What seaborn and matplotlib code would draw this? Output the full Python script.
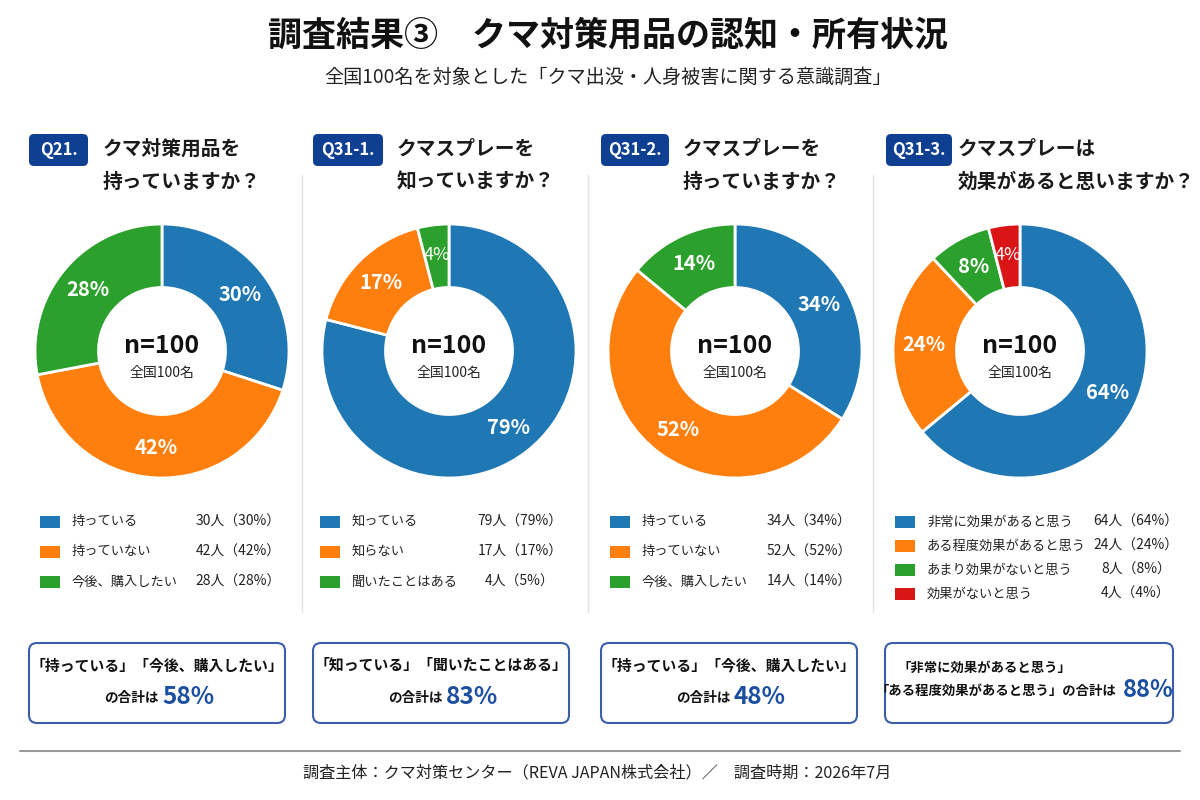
import matplotlib.pyplot as plt
import seaborn as sns
from matplotlib.patches import FancyBboxPatch, Rectangle

# データ
q_codes = ["Q21.", "Q31-1.", "Q31-2.", "Q31-3."]
q_line1 = ["クマ対策用品を", "クマスプレーを", "クマスプレーを", "クマスプレーは"]
q_line2 = ["持っていますか？", "知っていますか？", "持っていますか？", "効果があると思いますか？"]

labels_q21 = ["持っている", "持っていない", "今後、購入したい"]
values_q21 = [30, 42, 28]
legend_pct_q21 = [30, 42, 28]

labels_q311 = ["知っている", "知らない", "聞いたことはある"]
values_q311 = [79, 17, 4]
legend_pct_q311 = [79, 17, 5]

labels_q312 = ["持っている", "持っていない", "今後、購入したい"]
values_q312 = [34, 52, 14]
legend_pct_q312 = [34, 52, 14]

labels_q313 = ["非常に効果があると思う", "ある程度効果があると思う", "あまり効果がないと思う", "効果がないと思う"]
values_q313 = [64, 24, 8, 4]
legend_pct_q313 = [64, 24, 8, 4]

box_line1 = ["「持っている」「今後、購入したい」", "「知っている」「聞いたことはある」",
             "「持っている」「今後、購入したい」", "「非常に効果があると思う」"]
totals = [58, 83, 48, 88]

all_labels = [labels_q21, labels_q311, labels_q312, labels_q313]
all_values = [values_q21, values_q311, values_q312, values_q313]
all_legend_pct = [legend_pct_q21, legend_pct_q311, legend_pct_q312, legend_pct_q313]

# スタイル
sns.set_theme(style="white")
plt.rcParams['font.family'] = ['Noto Sans CJK JP', 'DejaVu Sans']

pal = sns.color_palette("tab10")
colors = [pal[0], pal[1], pal[2], "#d91515"]
navy = "#0f3f90"
accent = "#1d4fa0"

W, H = 1200, 800
fig = plt.figure(figsize=(12, 8), dpi=100)
fig.patch.set_facecolor("white")
bg = fig.add_axes([0, 0, 1, 1])
bg.set_xlim(0, W)
bg.set_ylim(H, 0)
bg.axis("off")

# タイトル
bg.text(608, 35, "調査結果③　クマ対策用品の認知・所有状況", ha="center", va="center",
        fontsize=24.5, weight="bold", color="#111111")
bg.text(608, 77, "全国100名を対象とした「クマ出没・人身被害に関する意識調査」", ha="center",
        va="center", fontsize=13.8, color="#222222")

# レイアウト用の位置（ピクセル）
centers = [162, 449, 735, 1020]
cy, R = 351, 127
badge_x = [29, 313, 601, 886]
badge_w = [59, 70, 68, 66]
qtext_x = [103, 397, 683, 958]
sq_x = [40, 320, 610, 895]
count_cx = [238, 520, 809, 1136]
box_x = [29, 313, 601, 885]
box_w = [256, 256, 256, 288]

for sx in [302, 588, 873]:
    bg.plot([sx, sx], [175, 612], color="#e4e4e4", lw=1)

for i in range(4):
    # 設問バッジ
    bg.add_patch(FancyBboxPatch((badge_x[i], 134), badge_w[i], 32,
                                boxstyle="round,pad=0,rounding_size=5",
                                facecolor=navy, edgecolor="none"))
    bg.text(badge_x[i] + badge_w[i] / 2, 150, q_codes[i], ha="center", va="center",
            fontsize=12, weight="bold", color="white")
    bg.text(qtext_x[i], 149, q_line1[i], ha="left", va="center", fontsize=14.2,
            weight="bold", color="#1a1a1a")
    bg.text(qtext_x[i], 182, q_line2[i], ha="left", va="center", fontsize=14.2,
            weight="bold", color="#1a1a1a")

    # ドーナツ
    vals = all_values[i]
    ax = fig.add_axes([(centers[i] - R) / W, (H - cy - R) / H, 2 * R / W, 2 * R / H])
    wedges, _, autotexts = ax.pie(vals, colors=colors[:len(vals)], startangle=90,
                                  counterclock=False, autopct=lambda p: f"{p:.0f}%",
                                  pctdistance=0.76,
                                  wedgeprops=dict(width=0.5, edgecolor="white", linewidth=2),
                                  textprops=dict(color="white", fontsize=14.5, weight="bold"))
    for t, v in zip(autotexts, vals):
        if v < 5:
            t.set_weight("normal")
            t.set_fontsize(13)
    ax.set_xlim(-1, 1)
    ax.set_ylim(-1, 1)
    ax.text(0, 0.04, "n=100", ha="center", va="center", fontsize=18, weight="bold",
            color="#111111")
    ax.text(0, -0.17, "全国100名", ha="center", va="center", fontsize=10, color="#222222")

    # 凡例
    n = len(vals)
    rows = [522, 552, 582] if n == 3 else [522, 546, 570, 594]
    for j in range(n):
        y = rows[j]
        bg.add_patch(Rectangle((sq_x[i], y - 6), 20, 12, facecolor=colors[j], edgecolor="none"))
        bg.text(sq_x[i] + 32, y, all_labels[i][j], ha="left", va="center", fontsize=9.5,
                color="#222222")
        bg.text(count_cx[i], y, f"{vals[j]}人（{all_legend_pct[i][j]}%）", ha="center",
                va="center", fontsize=10, color="#222222")

    # 合計ボックス
    bg.add_patch(FancyBboxPatch((box_x[i], 643), box_w[i], 80,
                                boxstyle="round,pad=0,rounding_size=8",
                                facecolor="white", edgecolor="#3d5eab", lw=1.5))
    if i < 3:
        mid = box_x[i] + box_w[i] / 2
        bg.text(mid, 665, box_line1[i], ha="center", va="center", fontsize=10.7,
                weight="bold", color="#111111")
        bg.text(mid + 2, 698, "の合計は", ha="right", va="center", fontsize=9.8,
                weight="bold", color="#111111")
        bg.text(mid + 5, 697, f"{totals[i]}%", ha="left", va="center", fontsize=17.5,
                weight="bold", color=accent)
    else:
        bg.text(897, 668, box_line1[i], ha="left", va="center", fontsize=9.6,
                weight="bold", color="#111111")
        bg.text(1116, 691, "「ある程度効果があると思う」の合計は", ha="right", va="center",
                fontsize=9.6, weight="bold", color="#111111")
        bg.text(1123, 690, f"{totals[i]}%", ha="left", va="center", fontsize=17,
                weight="bold", color=accent)

# フッター
bg.plot([20, 1180], [751, 751], color="#9a9a9a", lw=1.5)
bg.text(597, 773, "調査主体：クマ対策センター（REVA JAPAN株式会社）／　調査時期：2026年7月",
        ha="center", va="center", fontsize=11.6, color="#222222")

fig.savefig("out.png", dpi=100, facecolor="white")
